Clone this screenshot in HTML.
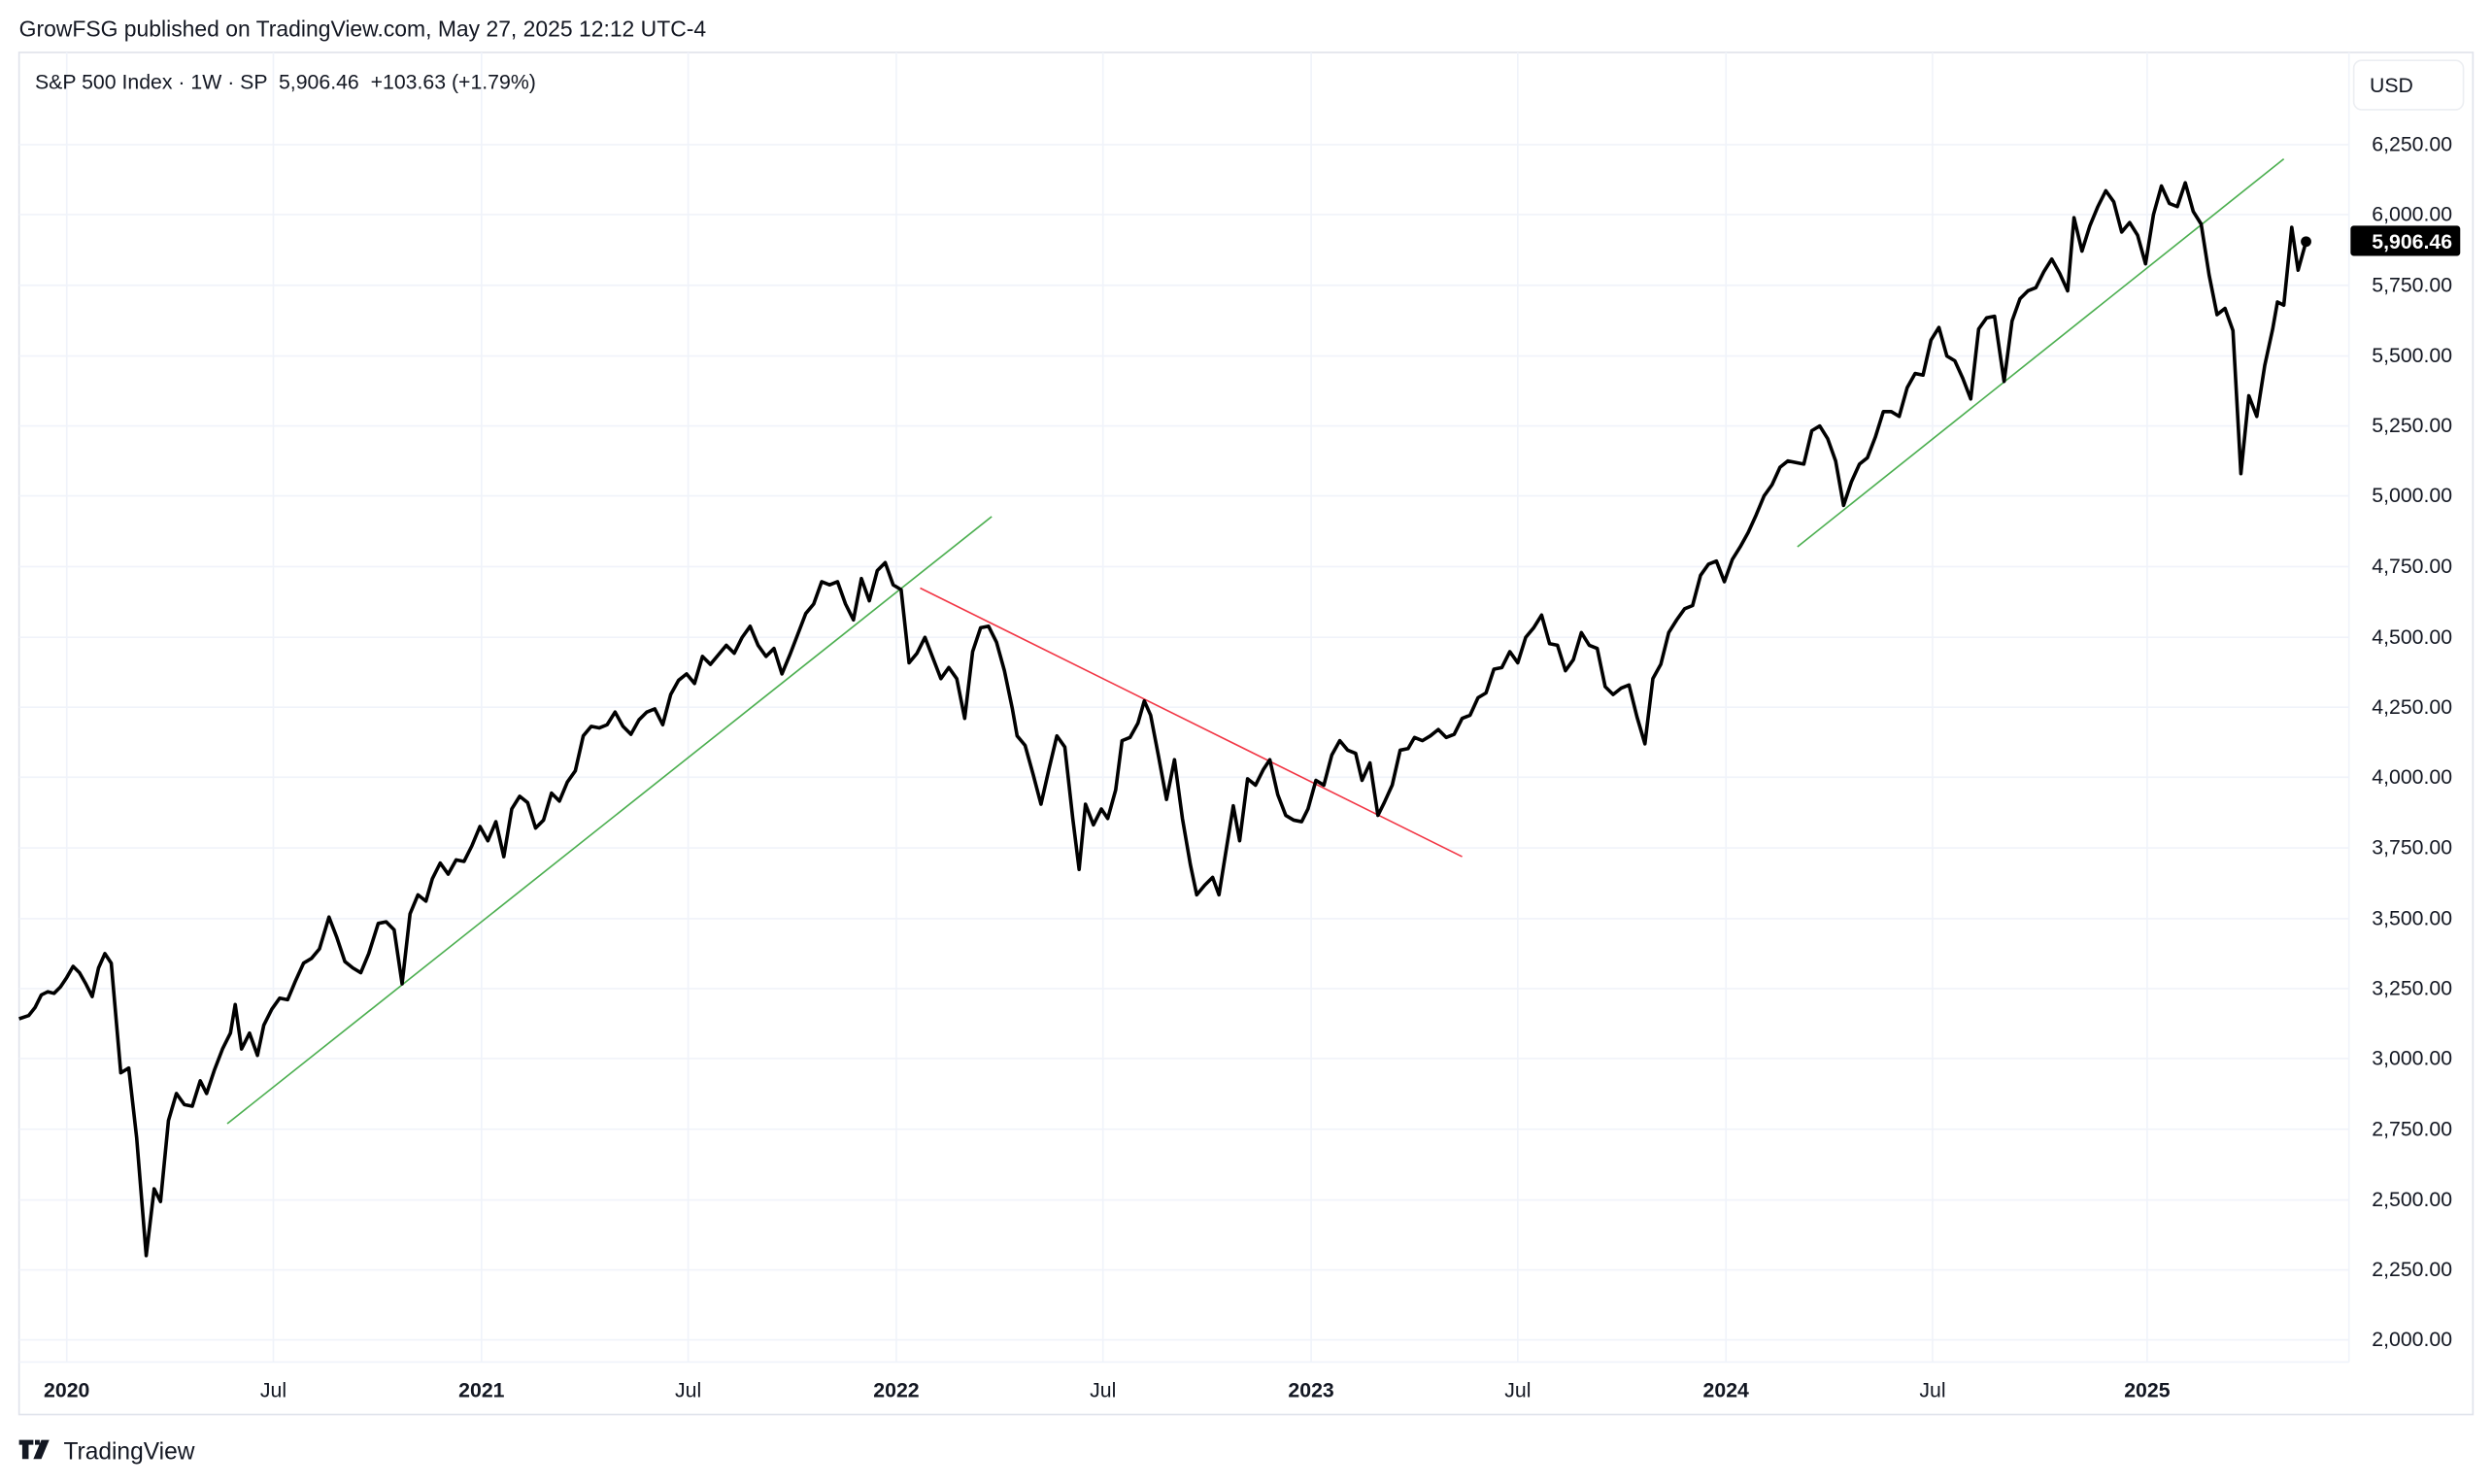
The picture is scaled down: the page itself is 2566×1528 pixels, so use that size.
<!DOCTYPE html>
<html><head><meta charset="utf-8"><style>
html,body{margin:0;padding:0;background:#fff;}
svg{display:block;}
text{font-family:"Liberation Sans","DejaVu Sans",sans-serif;fill:#131722;white-space:pre;}
</style></head><body>
<svg width="2566" height="1528" viewBox="0 0 1568 933.7" preserveAspectRatio="none" xmlns="http://www.w3.org/2000/svg">
<rect x="0" y="0" width="1568" height="934" fill="#fff"/>
<text x="12" y="23" font-size="14">GrowFSG published on TradingView.com, May 27, 2025 12:12 UTC-4</text>
<rect x="12" y="33" width="1544" height="857" fill="none" stroke="#e0e3eb" stroke-width="1"/>
<line x1="1478" y1="33" x2="1478" y2="857" stroke="#f0f3fa"/>
<line x1="12" y1="857" x2="1478" y2="857" stroke="#f0f3fa"/>
<g stroke="#f0f3fa" stroke-width="1">
<line x1="12" x2="1478" y1="91" y2="91"/><line x1="12" x2="1478" y1="135" y2="135"/><line x1="12" x2="1478" y1="179.5" y2="179.5"/><line x1="12" x2="1478" y1="224" y2="224"/><line x1="12" x2="1478" y1="268" y2="268"/><line x1="12" x2="1478" y1="312" y2="312"/><line x1="12" x2="1478" y1="356.5" y2="356.5"/><line x1="12" x2="1478" y1="401" y2="401"/><line x1="12" x2="1478" y1="445" y2="445"/><line x1="12" x2="1478" y1="489" y2="489"/><line x1="12" x2="1478" y1="533.5" y2="533.5"/><line x1="12" x2="1478" y1="578" y2="578"/><line x1="12" x2="1478" y1="622" y2="622"/><line x1="12" x2="1478" y1="666" y2="666"/><line x1="12" x2="1478" y1="710.5" y2="710.5"/><line x1="12" x2="1478" y1="755" y2="755"/><line x1="12" x2="1478" y1="799" y2="799"/><line x1="12" x2="1478" y1="843" y2="843"/>
<line y1="33" y2="857" x1="42" x2="42"/><line y1="33" y2="857" x1="172" x2="172"/><line y1="33" y2="857" x1="303" x2="303"/><line y1="33" y2="857" x1="433" x2="433"/><line y1="33" y2="857" x1="564" x2="564"/><line y1="33" y2="857" x1="694" x2="694"/><line y1="33" y2="857" x1="825" x2="825"/><line y1="33" y2="857" x1="955" x2="955"/><line y1="33" y2="857" x1="1086" x2="1086"/><line y1="33" y2="857" x1="1216" x2="1216"/><line y1="33" y2="857" x1="1351" x2="1351"/>
</g>
<text x="22" y="56" font-size="13">S&amp;P 500 Index · 1W · SP  5,906.46  +103.63 (+1.79%)</text>
<rect x="1481" y="38" width="69" height="31" rx="5" fill="#fff" stroke="#eceef2"/>
<text x="1491" y="58" font-size="13">USD</text>
<g font-size="13" text-anchor="end">
<text x="1543" y="95">6,250.00</text><text x="1543" y="139">6,000.00</text><text x="1543" y="183.5">5,750.00</text><text x="1543" y="228">5,500.00</text><text x="1543" y="272">5,250.00</text><text x="1543" y="316">5,000.00</text><text x="1543" y="360.5">4,750.00</text><text x="1543" y="405">4,500.00</text><text x="1543" y="449">4,250.00</text><text x="1543" y="493">4,000.00</text><text x="1543" y="537.5">3,750.00</text><text x="1543" y="582">3,500.00</text><text x="1543" y="626">3,250.00</text><text x="1543" y="670">3,000.00</text><text x="1543" y="714.5">2,750.00</text><text x="1543" y="759">2,500.00</text><text x="1543" y="803">2,250.00</text><text x="1543" y="847">2,000.00</text>
</g>
<g font-size="13" text-anchor="middle">
<text x="42" y="879" font-weight="bold">2020</text><text x="172" y="879">Jul</text><text x="303" y="879" font-weight="bold">2021</text><text x="433" y="879">Jul</text><text x="564" y="879" font-weight="bold">2022</text><text x="694" y="879">Jul</text><text x="825" y="879" font-weight="bold">2023</text><text x="955" y="879">Jul</text><text x="1086" y="879" font-weight="bold">2024</text><text x="1216" y="879">Jul</text><text x="1351" y="879" font-weight="bold">2025</text>
</g>
<line x1="143" y1="707" x2="624" y2="325" stroke="#4caf50" stroke-width="1"/>
<line x1="579" y1="370" x2="920" y2="539" stroke="#f23645" stroke-width="1"/>
<line x1="1131" y1="344" x2="1437" y2="100" stroke="#4caf50" stroke-width="1"/>
<polyline fill="none" stroke="#000" stroke-width="2.2" stroke-linejoin="round" points="12,641 18,639 22,634 26,626 30,624 34,625 38,621 42,615 46,608 50,612 54,619 58,627 62,609 66,600 70,606 76,675 81,672 86,716 92,790 97,748 101,756 106,705 111,688 116,695 121,696 126,680 130,688 135,673 140,660 145,650 148,632 152,660 157,650 162,664 166,645 171,635 176,628 181,629 186,617 191,606 196,603 201,597 207,577 212,590 217,605 222,609 227,612 232,600 238,581 243,580 248,585 253,619 258,575 263,563 268,567 272,553 277,543 282,550 287,541 292,542 297,532 302,520 307,529 312,517 317,539 322,509 327,501 332,505 337,521 342,516 347,499 352,504 357,492 362,485 367,463 372,457 377,458 382,456 387,448 392,457 397,462 402,453 407,448 412,446 417,456 422,437 427,428 432,424 437,430 442,413 447,418 452,412 457,406 462,411 467,401 472,394 477,406 482,413 487,408 492,424 497,412 502,399 507,386 512,380 517,366 522,368 527,366 532,380 537,390 542,364 547,378 552,359 557,354 562,368 567,371 572,417 577,411 582,401 587,414 592,427 597,420 602,427 607,452 612,410 617,395 622,394 627,404 632,422 637,446 640,463 645,469 650,487 655,506 660,484 665,463 670,470 675,515 679,547 683,506 688,519 693,509 697,515 702,497 706,466 711,464 716,455 720,441 724,450 729,476 734,503 739,478 744,515 749,544 753,563 758,557 763,552 767,563 771,538 776,507 780,529 785,490 790,494 795,484 799,478 804,500 809,513 814,516 819,517 823,509 828,491 833,494 838,475 843,466 848,472 853,474 857,491 862,480 867,513 871,505 876,494 881,472 886,471 890,464 895,466 900,463 905,459 910,464 915,462 920,452 925,450 930,439 935,436 940,421 945,420 950,410 955,417 960,401 965,395 970,387 975,405 980,406 985,422 990,415 995,398 1000,406 1005,408 1010,432 1015,437 1020,433 1025,431 1030,451 1035,468 1040,427 1045,418 1050,398 1055,390 1060,383 1065,381 1070,362 1075,355 1080,353 1085,366 1090,352 1095,344 1100,335 1105,324 1110,312 1115,305 1120,294 1125,290 1130,291 1135,292 1140,271 1145,268 1150,276 1155,290 1160,318 1165,303 1170,292 1175,288 1180,275 1185,259 1190,259 1195,262 1200,244 1205,235 1210,236 1215,214 1220,206 1225,224 1230,227 1235,238 1240,251 1245,207 1250,200 1255,199 1261,240 1266,202 1271,188 1276,183 1281,181 1286,171 1291,163 1296,172 1301,183 1305,137 1310,158 1315,142 1320,130 1325,120 1330,127 1335,146 1340,140 1345,148 1350,166 1355,135 1360,117 1365,128 1370,130 1375,115 1380,133 1385,141 1390,173 1395,198 1400,194 1405,208 1410,298 1415,249 1420,262 1425,230 1430,207 1433,190 1437,192 1442,143 1446,170 1451,152"/>
<circle cx="1451" cy="152" r="3.3" fill="#000"/>
<rect x="1479" y="142" width="69" height="19" rx="2" fill="#000"/>
<text x="1543" y="156.5" font-size="13" text-anchor="end" font-weight="bold" style="fill:#fff">5,906.46</text>
<g transform="translate(12,906)">
<path d="M0 0h9v3h-3v9h-4v-9h-2z M10 0h3v3h-3z M14 0h5l-5 12h-5z" fill="#131722"/>
</g>
<text x="40" y="918" font-size="15">TradingView</text>
</svg>
</body></html>
